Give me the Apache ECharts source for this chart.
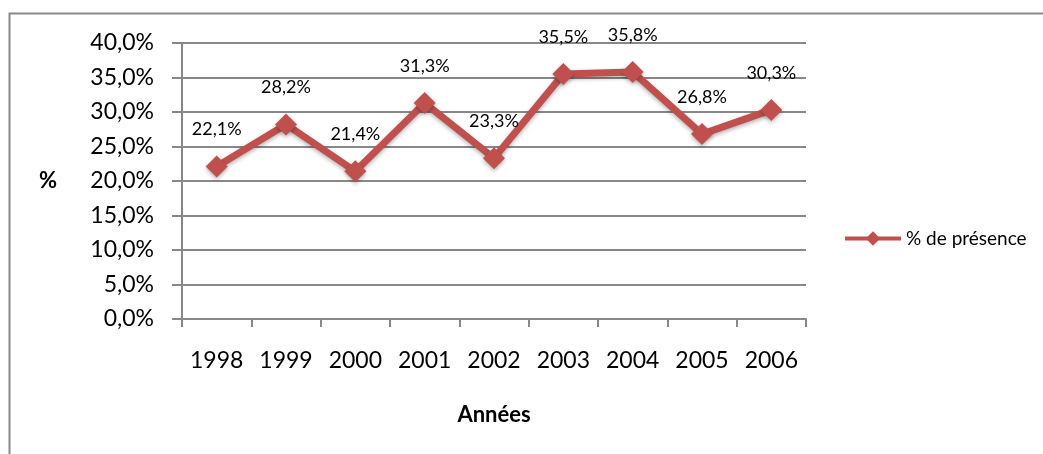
<!DOCTYPE html>
<html>
<head>
<meta charset="utf-8">
<script src="https://cdn.jsdelivr.net/npm/echarts@6/dist/echarts.min.js"></script>
<style>
  html, body { margin: 0; padding: 0; background: #fff; }
  #chart { width: 1043px; height: 454px; }
</style>
</head>
<body>
<div id="chart"></div>
<script>
// données
const annees = ['1998', '1999', '2000', '2001', '2002', '2003', '2004', '2005', '2006'];
const presence = [22.1, 28.2, 21.4, 31.3, 23.3, 35.5, 35.8, 26.8, 30.3];

const fr = (v) => v.toFixed(1).replace('.', ',') + '%';
const font = 'Lato, "Open Sans", sans-serif';

const chart = echarts.init(document.getElementById('chart'));
chart.setOption({
  animation: false,
  graphic: [{
    type: 'rect',
    shape: { x: 9.5, y: 13.5, width: 1100, height: 600 },
    style: { fill: 'none', stroke: '#888', lineWidth: 2 }
  }],
  grid: { left: 182, right: 237, top: 43, bottom: 135 },
  legend: {
    left: 838, top: 224, orient: 'vertical',
    itemWidth: 56, itemHeight: 18, itemGap: 4,
    lineStyle: { width: 4 },
    textStyle: { fontFamily: font, fontSize: 19, color: '#000' },
    data: ['% de présence']
  },
  xAxis: {
    type: 'category',
    data: annees,
    name: 'Années',
    nameLocation: 'middle',
    nameGap: 85,
    nameTextStyle: { fontFamily: font, fontSize: 22, fontWeight: 'bold', color: '#000' },
    axisLine: { lineStyle: { color: '#888', width: 2 } },
    axisTick: { show: true, interval: 0, length: 8, lineStyle: { color: '#888', width: 2 } },
    axisLabel: { interval: 0, fontFamily: font, fontSize: 23, color: '#000', margin: 30 }
  },
  yAxis: {
    type: 'value',
    min: 0, max: 40, interval: 5,
    name: '%',
    nameLocation: 'middle',
    nameRotate: 0,
    nameGap: 125,
    nameTextStyle: { fontFamily: font, fontSize: 22, fontWeight: 'bold', color: '#000' },
    axisLine: { show: true, lineStyle: { color: '#888', width: 2 } },
    axisTick: { show: true, length: 10, lineStyle: { color: '#888', width: 2 } },
    axisLabel: { fontFamily: font, fontSize: 23, color: '#000', margin: 28, formatter: (v) => fr(v) },
    splitLine: { lineStyle: { color: '#888', width: 2 } }
  },
  series: [{
    name: '% de présence',
    type: 'line',
    data: presence,
    symbol: 'diamond',
    symbolSize: 22,
    lineStyle: { color: '#c0504d', width: 7, shadowColor: 'rgba(0,0,0,0.3)', shadowBlur: 4, shadowOffsetY: 2 },
    itemStyle: { color: '#c0504d', shadowColor: 'rgba(0,0,0,0.3)', shadowBlur: 4, shadowOffsetY: 2 },
    label: {
      show: true, position: 'top', distance: 17,
      fontFamily: font, fontSize: 18, color: '#000',
      formatter: (p) => fr(p.value)
    }
  }]
});
</script>
</body>
</html>
